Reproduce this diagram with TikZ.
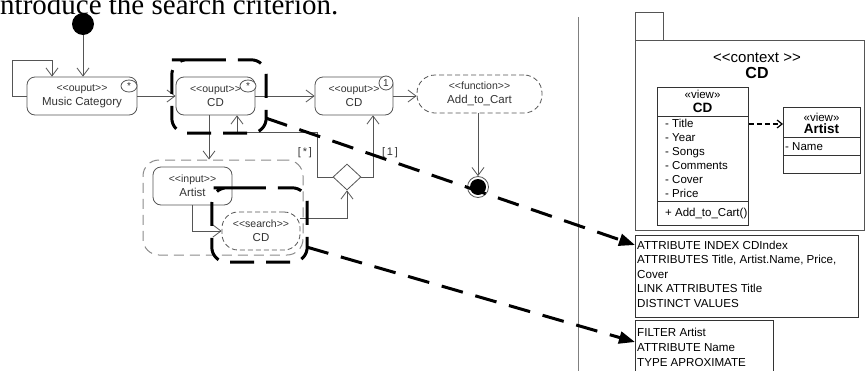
\documentclass[tikz,border=0pt]{standalone}
\usepackage{fontspec}
\setmainfont{Liberation Sans}
\newfontfamily\serifcap{Liberation Serif}
\usetikzlibrary{arrows.meta,shapes.geometric}

% guillemet-free stereotype brackets (a kern stops the << ligature)
\newcommand\ltlt{<\kern0pt<}
\newcommand\gtgt{>\kern0pt>}
\newcommand\fsz[2]{\fontsize{#1}{#2}\selectfont}
\newcommand\stereo[2]{{\fsz{10.5}{14}\ltlt #1\gtgt}\\{\fsz{11.5}{14}#2}}

\definecolor{linegray}{HTML}{555555}
\definecolor{txtgray}{HTML}{333333}
\definecolor{grpgray}{HTML}{8A8A8A}

\tikzset{
  flow/.style={draw=linegray, line width=0.8pt, -{Straight Barb[length=8pt,width=12pt]}},
  act/.style={draw=linegray, line width=0.8pt, rounded corners=8pt, text=txtgray,
    align=center, inner sep=0pt, minimum height=38pt, font=\fsz{11.5}{14}},
  dact/.style={act, rounded corners=16pt, dash pattern=on 5pt off 3pt},
  mult/.style={draw=linegray, line width=0.8pt, fill=white, ellipse, inner sep=0pt,
    minimum width=16pt, minimum height=12pt, font=\fsz{10}{10}, text=txtgray},
  focusbox/.style={inner sep=0pt},
  focus/.style={draw=black, line width=3pt, rounded corners=15pt,
    dash pattern=on 24pt off 12pt},
  trace/.style={draw=black, line width=3pt, dash pattern=on 22pt off 13pt,
    -{Triangle[length=16pt,width=12pt]}},
  dep/.style={draw=black, line width=1.2pt, dash pattern=on 5pt off 3pt,
    -{Straight Barb[length=5pt,width=8pt]}},
  frame/.style={draw=linegray, line width=0.8pt, inner sep=0pt},
  cls/.style={draw=black!80, line width=0.8pt, inner sep=0pt},
  guard/.style={text=txtgray, font=\fsz{11}{13}, inner sep=0pt},
  ctext/.style={anchor=base west, inner sep=0pt, font=\fsz{11.6}{14}},
}

\begin{document}
\begin{tikzpicture}[x=1pt,y=-1pt]
\useasboundingbox (0,0) rectangle (866,370);
\clip (0,0) rectangle (866,370);

% caption line above the diagram
\node[anchor=base west, inner sep=0pt, font=\serifcap\fsz{29}{30}] (cap) at (0,14) {ntroduce the search criterion.};

% ---------- activity part ----------
\node[draw=grpgray, line width=1pt, dash pattern=on 10pt off 6pt, rounded corners=16pt,
      minimum width=160pt, minimum height=95pt, inner sep=0pt] (grp) at (223,207.5) {};

\node[fill=black, circle, minimum size=22pt, inner sep=0pt] (init) at (83,24) {};
\node[act, minimum width=110pt] (mc) at (82,96) {\stereo{ouput}{Music Category}};
\node[mult] (mcm) at (129,86) {*};
\node[act, minimum width=79pt] (cd1) at (215.5,96) {\stereo{ouput}{CD}};
\node[mult] (cd1m) at (248,86) {*};
\node[act, minimum width=78pt] (cd2) at (354,96) {\stereo{ouput}{CD}};
\node[mult, circle, minimum size=14pt] (cd2m) at (386,83) {1};
\node[dact, minimum width=125pt, rounded corners=18pt] (cart) at (479.5,94) {\stereo{function}{Add\_to\_Cart}};

\node[act, minimum width=79pt] (art) at (192.5,186) {\stereo{input}{Artist}};
\node[dact, minimum width=78pt] (srch) at (261,231) {\stereo{search}{CD}};

\node[draw=linegray, line width=0.8pt, diamond, minimum width=28pt, minimum height=26pt,
      inner sep=0pt, fill=white] (dec) at (347,177) {};

\node[circle, draw=linegray, line width=0.8pt, minimum size=21pt, inner sep=0pt] (fin) at (478,187) {};
\fill[black] (fin.center) circle (8pt);

\coordinate (loopA) at (12,60);
\coordinate (loopB) at (52,60);
\coordinate (dnx) at (209,0);
\coordinate (jl) at (317,132);
\coordinate (ju) at (237,132);
\coordinate (jr) at (373,177);

\draw[flow] (init) -- (init |- mc.north);
\draw[flow] (mc.west) -- (mc.west -| loopA) -- (loopA) -- (loopB) -- (loopB |- mc.north);
\draw[flow] (mc.east) -- (cd1.west);
\draw[flow] (cd1.east) -- (cd2.west);
\draw[flow] (cd2.east) -- (cd2.east -| cart.west);
\draw[flow] (fin |- cart.south) -- (fin.north);
\draw[flow] (cd1.south -| dnx) -- (dnx |- grp.north);
\draw[flow] (art.south) |- (srch.west);
\draw[flow] ([yshift=13pt]srch.east) -| (dec.south);
\draw[flow] (dec.west) -| (jl) -- (ju) -- (ju |- cd1.south);
\draw[flow] (dec.east) -- (jr) -- (jr |- cd2.south);

\node[guard] (g1) at (305,153) {[\,*\,]};
\node[guard] (g2) at (390,153) {[\,1\,]};

% highlighted elements: thick dashed frames, started just after the top-left corner
\node[focusbox, minimum width=94pt, minimum height=73pt] (sel1) at (219,96.5) {};
\node[focusbox, minimum width=95pt, minimum height=74pt] (sel2) at (259.5,225) {};
\draw[focus] ([xshift=15pt]sel1.north west) -- (sel1.north east) -- (sel1.south east)
  -- (sel1.south west) -- (sel1.north west) -- cycle;
\draw[focus] ([xshift=15pt]sel2.north west) -- (sel2.north east) -- (sel2.south east)
  -- (sel2.south west) -- (sel2.north west) -- cycle;

% separator
\coordinate (sepT) at (578,17);
\coordinate (sepB) at (578,372);
\draw[draw=gray, line width=0.8pt] (sepT) -- (sepB);

% ---------- package with the context ----------
\node[frame, anchor=north west, minimum width=28pt, minimum height=28pt] (tab) at (635,12) {};
\node[frame, anchor=north west, minimum width=229pt, minimum height=190pt] (pkg) at (635,40) {};
\node[font=\fsz{15}{16}, align=center, inner sep=0pt] (ctx) at (757,66) {\ltlt context \gtgt\\ {\fsz{16}{16}\bfseries CD}};

% class CD
\node[cls, anchor=north west, minimum width=91pt, minimum height=138pt] (cdc) at (657,87) {};
\draw[cls] ([yshift=-29pt]cdc.north west) -- ([yshift=-29pt]cdc.north east);
\draw[cls] ([yshift=-114pt]cdc.north west) -- ([yshift=-114pt]cdc.north east);
\node[anchor=base, inner sep=0pt, font=\fsz{11.5}{12}] (cdst) at (702.5,98) {«view»};
\node[anchor=base, inner sep=0pt, font=\fsz{13.5}{14}\bfseries] (cdnm) at (702.5,112) {CD};
\foreach \t [count=\i] in {Title,Year,Songs,Comments,Cover,Price}
  \node[ctext, font=\fsz{11.5}{14}] (cda\i) at (665,113+14*\i) {- \t};
\node[ctext, font=\fsz{11.5}{14}] (cdop) at (665,216) {+ Add\_to\_Cart()};

% class Artist
\node[cls, anchor=north west, minimum width=77pt, minimum height=66pt] (atc) at (783,107) {};
\draw[cls] ([yshift=-30pt]atc.north west) -- ([yshift=-30pt]atc.north east);
\draw[cls] ([yshift=-48pt]atc.north west) -- ([yshift=-48pt]atc.north east);
\node[anchor=base, inner sep=0pt, font=\fsz{11.5}{12}] (atst) at (821.5,121) {«view»};
\node[anchor=base, inner sep=0pt, font=\fsz{13.5}{14}\bfseries] (atnm) at (821.5,133) {Artist};
\node[ctext, font=\fsz{11.5}{14}] (ata) at (785,150) {- Name};

\draw[dep] ([yshift=-37pt]cdc.north east) -- ([yshift=-17pt]atc.north west);

% ---------- annotations ----------
\node[cls, anchor=north west, minimum width=223pt, minimum height=82pt] (attr) at (635,235) {};
\node[ctext] (at1) at (637,249) {ATTRIBUTE INDEX CDIndex};
\node[ctext] (at2) at (637,263.5) {ATTRIBUTES Title, Artist.Name, Price,};
\node[ctext] (at3) at (637,278) {Cover};
\node[ctext] (at4) at (637,292.5) {LINK ATTRIBUTES Title};
\node[ctext] (at5) at (637,307) {DISTINCT VALUES};

\node[cls, anchor=north west, minimum width=138pt, minimum height=60pt] (filt) at (635,320) {};
\node[ctext] (ft1) at (637,336) {FILTER Artist};
\node[ctext] (ft2) at (637,351) {ATTRIBUTE Name};
\node[ctext] (ft3) at (637,366) {TYPE APROXIMATE};

\draw[trace] ([yshift=15pt]sel1.south east) -- ([yshift=-10pt]attr.north west);
\draw[trace] ([yshift=15pt]sel2.south east) -- ([yshift=-22pt]filt.north west);
\end{tikzpicture}
\end{document}
